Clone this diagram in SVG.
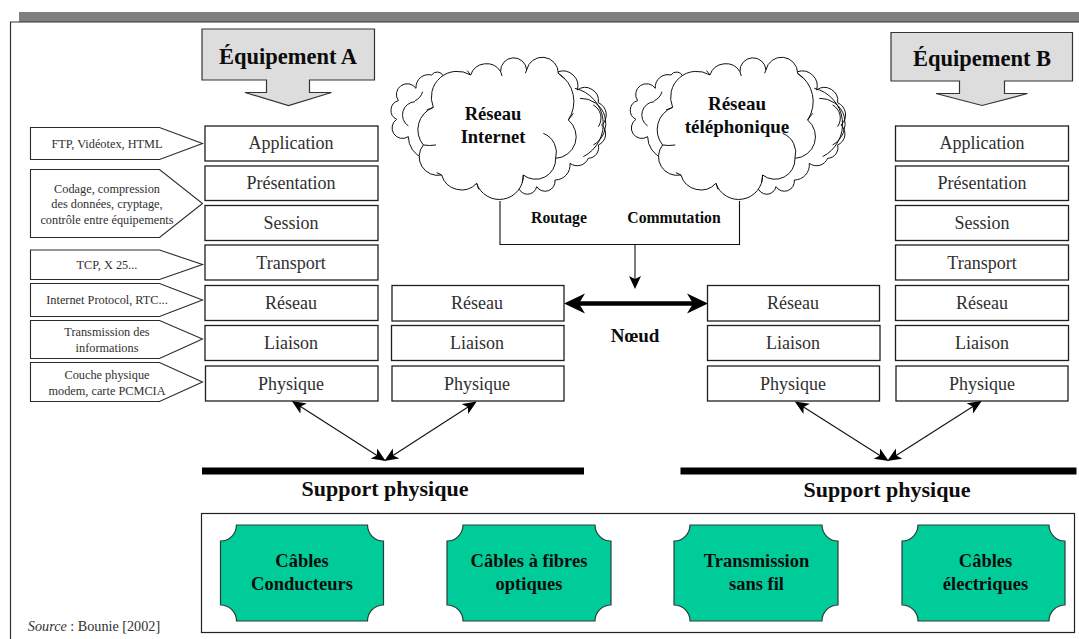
<svg xmlns="http://www.w3.org/2000/svg" width="1079" height="639" viewBox="0 0 1079 639">
<style>
text{font-family:"Liberation Serif","Times New Roman",serif;text-anchor:middle;fill:#303030}
.b{font-weight:bold;fill:#0c0c0c}
.layer{fill:#fff;stroke:#1f1f1f;stroke-width:1.3}
.lt{font-size:18px}
.pent{fill:#fff;stroke:#2a2a2a;stroke-width:1.1}
.pt{font-size:12.300px}
.call{fill:#ddd;stroke:#333;stroke-width:1.2}
.plq{fill:#00cc99;stroke:#2c3c38;stroke-width:1.2}
.pq{font-size:18.500px;font-weight:bold;fill:#0c0c0c}
.cl{fill:#fff;stroke:#111;stroke-width:3}
.ln{fill:none;stroke:#111;stroke-width:3}
.con{fill:none;stroke:#111;stroke-width:1.1}
.thin{marker-start:url(#h);marker-end:url(#h)}
</style>
<defs>
<marker id="h" markerUnits="userSpaceOnUse" markerWidth="15" markerHeight="13" refX="12" refY="6" orient="auto-start-reverse"><path d="M14,6 L0,0 L3.5,6 L0,12z" fill="#000"/></marker>
<marker id="t" markerUnits="userSpaceOnUse" markerWidth="22" markerHeight="22" refX="11" refY="11" orient="auto-start-reverse"><path d="M21,11 L0,1 L6,11 L0,21z" fill="#000"/></marker>
<marker id="d" markerUnits="userSpaceOnUse" markerWidth="14" markerHeight="14" refX="6" refY="7" orient="auto"><path d="M13,7 L0,1 L3,7 L0,13z" fill="#000"/></marker>
<g id="cloud" transform="scale(.3333)">
<path class="cl" d="M535,125 A45,45 0 0 1 592,180 A40,40 0 0 1 655,218 A40,40 0 0 1 665,285 A36,36 0 0 1 655,345 A32,32 0 0 1 625,385 A36,36 0 0 1 570,400 A45,45 0 0 1 525,450 A30,30 0 0 1 470,470 A28,28 0 0 1 415,470 Z"/>
<path class="ln" d="M585,175 A110,110 0 0 1 610,380 M600,205 A75,75 0 0 1 640,345 M640,225 A45,45 0 0 1 655,290"/>
<path class="cl" d="M130,385 A70,70 0 0 1 85,320 A30,30 0 0 1 50,268 A30,30 0 0 1 55,212 A32,32 0 0 1 108,175 A38,38 0 0 1 155,135 A20,20 0 0 1 190,138 Z"/>
<path class="ln" d="M105,215 A40,40 0 0 0 85,288 M105,212 Q122,205 128,185"/>
<path class="cl" d="M430,435 A72,72 0 0 1 290,460 A62,62 0 0 1 185,435 A56,56 0 0 1 130,345 A72,72 0 0 1 160,232 A78,78 0 0 1 272,135 A50,50 0 0 1 362,125 A39,39 0 0 1 440,120 A48,48 0 0 1 535,130 A100,100 0 0 1 565,270 A65,65 0 0 1 527,385 A60,60 0 0 1 430,435 Z"/>
<path class="ln" d="M490,310 A62,62 0 0 1 527,385 M168,345 Q148,348 130,345 M430,435 L427,458 M290,460 L296,478 M185,435 L170,428 M160,232 L140,240 M272,135 L262,122 M535,130 L552,145 M565,270 L580,250 M362,125 L366,138 M440,120 L436,130"/>
</g>
</defs>
<rect x="19" y="12" width="1060" height="10" fill="#808080"/>
<path d="M10.500,639 V22 H1079" fill="none" stroke="#333" stroke-width="1.200"/>

<g id="equipement-a"><path class="call" d="M202,29 H374.500 V80 H309.500 V92.500 H331.500 L288.500,105.500 L245,92.500 H266.500 V80 H202Z"/><text class="b" x="288" y="64" font-size="22.500">Équipement A</text></g>
<g id="equipement-b"><path class="call" d="M891,32.500 H1072.500 V81 H1004.500 V93.500 H1027.500 L982,105.500 L936,93.500 H959.500 V81 H891Z"/><text class="b" x="982" y="66" font-size="22.500">Équipement B</text></g>

<g id="labels-protocoles">
<g id="p1"><path class="pent" d="M30.500,127.500 H159.500 L202.500,143.500 L159.500,159.500 H30.500Z"/><text class="pt" x="107" y="147.500">FTP, Vidéotex,  HTML</text></g>
<g id="p2"><path class="pent" d="M30.500,169.500 H159.500 L202.500,203.500 L159.500,237.500 H30.500Z"/><text class="pt" x="107" y="192.500">Codage, compression</text><text class="pt" x="107" y="208">des données, cryptage,</text><text class="pt" x="107" y="224">contrôle entre équipements</text></g>
<g id="p3"><path class="pent" d="M30.500,250 H159.500 L202.500,264.500 L159.500,279.500 H30.500Z"/><text class="pt" x="107" y="269">TCP, X 25...</text></g>
<g id="p4"><path class="pent" d="M30.500,283.500 H159.500 L202.500,300 L159.500,316.500 H30.500Z"/><text class="pt" x="107" y="304">Internet Protocol, RTC...</text></g>
<g id="p5"><path class="pent" d="M30.500,320.500 H159.500 L202.500,339 L159.500,358.500 H30.500Z"/><text class="pt" x="107" y="336">Transmission des</text><text class="pt" x="107" y="352">informations</text></g>
<g id="p6"><path class="pent" d="M30.500,362.500 H159.500 L202.500,382 L159.500,401.500 H30.500Z"/><text class="pt" x="107" y="379">Couche physique</text><text class="pt" x="107" y="394.500">modem, carte PCMCIA</text></g>
</g>

<g id="pile-a">
<g id="a1"><rect class="layer" x="205" y="126" width="173" height="35"/><text class="lt" x="291" y="149">Application</text></g>
<g id="a2"><rect class="layer" x="205" y="166" width="173" height="34.500"/><text class="lt" x="291" y="189">Présentation</text></g>
<g id="a3"><rect class="layer" x="205" y="205.500" width="173" height="35"/><text class="lt" x="291" y="229">Session</text></g>
<g id="a4"><rect class="layer" x="205" y="245" width="173" height="35"/><text class="lt" x="291" y="269">Transport</text></g>
<g id="a5"><rect class="layer" x="205" y="285.500" width="173" height="35"/><text class="lt" x="291" y="309">Réseau</text></g>
<g id="a6"><rect class="layer" x="205" y="325.500" width="173" height="35"/><text class="lt" x="291" y="349">Liaison</text></g>
<g id="a7"><rect class="layer" x="205.500" y="366" width="172.500" height="35"/><text class="lt" x="291" y="390">Physique</text></g>
</g>
<g id="pile-n1">
<g id="n1"><rect class="layer" x="392" y="285.500" width="172" height="35.500"/><text class="lt" x="477" y="309">Réseau</text></g>
<g id="n2"><rect class="layer" x="391.500" y="325.500" width="172.500" height="35"/><text class="lt" x="477" y="349">Liaison</text></g>
<g id="n3"><rect class="layer" x="392" y="366" width="172" height="35"/><text class="lt" x="477" y="390">Physique</text></g>
</g>
<g id="pile-n2">
<g id="m1"><rect class="layer" x="707.500" y="285.500" width="172" height="35.500"/><text class="lt" x="793" y="309">Réseau</text></g>
<g id="m2"><rect class="layer" x="707.500" y="325.500" width="172.500" height="35"/><text class="lt" x="793" y="349">Liaison</text></g>
<g id="m3"><rect class="layer" x="707.500" y="366" width="172" height="35"/><text class="lt" x="793" y="390">Physique</text></g>
</g>
<g id="pile-b">
<g id="b1"><rect class="layer" x="895.500" y="126" width="173" height="35"/><text class="lt" x="982" y="149">Application</text></g>
<g id="b2"><rect class="layer" x="895.500" y="166" width="173" height="34.500"/><text class="lt" x="982" y="189">Présentation</text></g>
<g id="b3"><rect class="layer" x="895.500" y="205.500" width="173" height="35"/><text class="lt" x="982" y="229">Session</text></g>
<g id="b4"><rect class="layer" x="895.500" y="245" width="173" height="35"/><text class="lt" x="982" y="269">Transport</text></g>
<g id="b5"><rect class="layer" x="895.500" y="285.500" width="173" height="35"/><text class="lt" x="982" y="309">Réseau</text></g>
<g id="b6"><rect class="layer" x="895.500" y="325.500" width="173" height="35"/><text class="lt" x="982" y="349">Liaison</text></g>
<g id="b7"><rect class="layer" x="896" y="366" width="172" height="35"/><text class="lt" x="982" y="390">Physique</text></g>
</g>

<g id="connectors">
<path class="con" d="M500,201 V244.500 H739.500 V201"/>
<path class="con" d="M635,244.500 V282" marker-end="url(#d)"/>
<line x1="574" y1="303.500" x2="698" y2="303.500" stroke="#000" stroke-width="4.500" marker-start="url(#t)" marker-end="url(#t)"/>
<line class="con thin" x1="293.500" y1="402" x2="384" y2="460"/>
<line class="con thin" x1="475" y1="402.500" x2="386" y2="460"/>
<line class="con thin" x1="796.500" y1="402.500" x2="887" y2="460"/>
<line class="con thin" x1="980" y1="402" x2="889" y2="460"/>
</g>

<g id="reseau-internet"><use href="#cloud" transform="translate(380,30)"/><text class="b" x="493" y="120" font-size="18.500">Réseau</text><text class="b" x="493" y="143" font-size="18.500">Internet</text></g>
<g id="reseau-telephonique"><use href="#cloud" transform="translate(619.300,30)"/><text class="b" x="737" y="110" font-size="19">Réseau</text><text class="b" x="737" y="133" font-size="19">téléphonique</text></g>
<text class="b" x="559" y="223" font-size="15.700">Routage</text>
<text class="b" x="674" y="223" font-size="15.700">Commutation</text>
<text class="b" x="635" y="342" font-size="19">Nœud</text>

<g id="support-gauche"><rect x="202" y="467.500" width="382" height="7" fill="#000"/><text class="b" x="385" y="496" font-size="22">Support physique</text></g>
<g id="support-droit"><rect x="680.500" y="467.500" width="396" height="7" fill="#000"/><text class="b" x="887" y="497" font-size="22">Support physique</text></g>

<rect x="201.500" y="513.500" width="873" height="119" fill="#fff" stroke="#222" stroke-width="1.200"/>
<g id="c1"><path class="plq" d="M236.500,525 H367.500 A16,16 0 0 0 383.500,541 V605 A16,16 0 0 0 367.500,621 H236.500 A16,16 0 0 0 220.500,605 V541 A16,16 0 0 0 236.500,525Z"/><text class="pq" x="302" y="567">Câbles</text><text class="pq" x="302" y="590">Conducteurs</text></g>
<g id="c2"><path class="plq" d="M463,525 H595 A16,16 0 0 0 611,541 V605 A16,16 0 0 0 595,621 H463 A16,16 0 0 0 447,605 V541 A16,16 0 0 0 463,525Z"/><text class="pq" x="529" y="567">Câbles à fibres</text><text class="pq" x="529" y="590">optiques</text></g>
<g id="c3"><path class="plq" d="M690,525 H822 A16,16 0 0 0 838,541 V605 A16,16 0 0 0 822,621 H690 A16,16 0 0 0 674,605 V541 A16,16 0 0 0 690,525Z"/><text class="pq" x="756.500" y="567">Transmission</text><text class="pq" x="756.500" y="590">sans fil</text></g>
<g id="c4"><path class="plq" d="M918,525 H1049 A16,16 0 0 0 1065,541 V605 A16,16 0 0 0 1049,621 H918 A16,16 0 0 0 902,605 V541 A16,16 0 0 0 918,525Z"/><text class="pq" x="985.500" y="567">Câbles</text><text class="pq" x="985.500" y="590">électriques</text></g>
<text x="94" y="630.500" font-size="14.200"><tspan font-style="italic">Source</tspan> : Bounie [2002]</text>
</svg>
